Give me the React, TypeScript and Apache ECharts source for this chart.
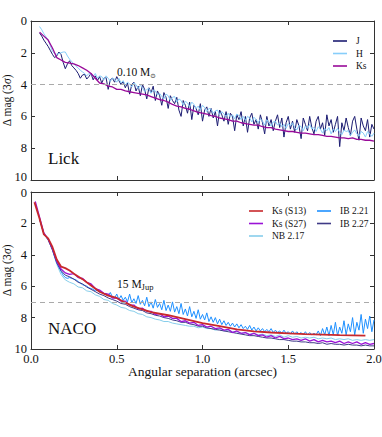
import React, { useEffect, useRef } from 'react';
import * as echarts from 'echarts';

// Angular separation grids (arcsec)
const SEP = [
  0.025, 0.05, 0.075, 0.1, 0.125, 0.15, 0.175, 0.2, 0.225, 0.25,
  0.275, 0.3, 0.325, 0.35, 0.375, 0.4, 0.425, 0.45, 0.475, 0.5,
  0.525, 0.55, 0.575, 0.6, 0.625, 0.65, 0.675, 0.7, 0.725, 0.75,
  0.775, 0.8, 0.825, 0.85, 0.875, 0.9, 0.925, 0.95, 0.975, 1.0,
  1.025, 1.05, 1.075, 1.1, 1.125, 1.15, 1.175, 1.2, 1.225, 1.25,
  1.275, 1.3, 1.325, 1.35, 1.375, 1.4, 1.425, 1.45, 1.475, 1.5,
  1.525, 1.55, 1.575, 1.6, 1.625, 1.65, 1.675, 1.7, 1.725, 1.75,
  1.775, 1.8, 1.825, 1.85, 1.875, 1.9, 1.925, 1.95, 1.975, 2.0,
];
const SEP_FINE = [
  0.05, 0.0625, 0.075, 0.0875, 0.1, 0.1125, 0.125, 0.1375,
  0.15, 0.1625, 0.175, 0.1875, 0.2, 0.2125, 0.225, 0.2375,
  0.25, 0.2625, 0.275, 0.2875, 0.3, 0.3125, 0.325, 0.3375,
  0.35, 0.3625, 0.375, 0.3875, 0.4, 0.4125, 0.425, 0.4375,
  0.45, 0.4625, 0.475, 0.4875, 0.5, 0.5125, 0.525, 0.5375,
  0.55, 0.5625, 0.575, 0.5875, 0.6, 0.6125, 0.625, 0.6375,
  0.65, 0.6625, 0.675, 0.6875, 0.7, 0.7125, 0.725, 0.7375,
  0.75, 0.7625, 0.775, 0.7875, 0.8, 0.8125, 0.825, 0.8375,
  0.85, 0.8625, 0.875, 0.8875, 0.9, 0.9125, 0.925, 0.9375,
  0.95, 0.9625, 0.975, 0.9875, 1.0, 1.0125, 1.025, 1.0375,
  1.05, 1.0625, 1.075, 1.0875, 1.1, 1.1125, 1.125, 1.1375,
  1.15, 1.1625, 1.175, 1.1875, 1.2, 1.2125, 1.225, 1.2375,
  1.25, 1.2625, 1.275, 1.2875, 1.3, 1.3125, 1.325, 1.3375,
  1.35, 1.3625, 1.375, 1.3875, 1.4, 1.4125, 1.425, 1.4375,
  1.45, 1.4625, 1.475, 1.4875, 1.5, 1.5125, 1.525, 1.5375,
  1.55, 1.5625, 1.575, 1.5875, 1.6, 1.6125, 1.625, 1.6375,
  1.65, 1.6625, 1.675, 1.6875, 1.7, 1.7125, 1.725, 1.7375,
  1.75, 1.7625, 1.775, 1.7875, 1.8, 1.8125, 1.825, 1.8375,
  1.85, 1.8625, 1.875, 1.8875, 1.9, 1.9125, 1.925, 1.9375,
  1.95, 1.9625, 1.975, 1.9875, 2.0,
];

// Lick (fine grid, from 0.05 arcsec)
const LICK_J = [
  0.75, 0.95, 1.2, 1.4, 1.6, 1.85, 2.1, 2.3,
  2.2, 1.95, 2.1, 2.6, 3.0, 2.7, 2.5, 2.8,
  2.95, 3.1, 3.3, 3.6, 3.4, 3.35, 3.65, 3.5,
  3.3, 3.7, 3.45, 3.75, 3.5, 3.9, 3.6, 3.55,
  4.3, 3.7, 3.6, 3.85, 3.5, 3.75, 4.0, 3.8,
  4.2, 3.9, 4.6, 4.0, 3.85, 4.4, 4.1, 4.7,
  4.0, 4.3, 4.9, 4.2, 4.5, 4.1, 5.0, 4.4,
  4.7, 5.3, 4.5, 4.8, 5.5, 4.7, 5.0, 5.2,
  4.8, 5.6, 6.0, 5.0, 5.3, 5.8, 5.1, 6.2,
  5.3, 5.5, 5.9, 5.2, 6.3, 5.6, 5.4, 6.0,
  5.5, 6.1, 5.7, 6.6, 5.6, 5.9, 6.3, 5.7,
  6.5, 5.8, 6.0, 6.9, 5.9, 6.2, 5.7, 6.6,
  6.0, 7.0, 6.1, 5.8, 6.5, 6.2, 6.8, 5.9,
  6.4, 7.1, 6.0, 6.6, 6.2, 6.9, 6.3, 5.9,
  6.7, 6.1, 7.3, 6.4, 6.0, 6.8, 6.3, 7.0,
  6.2, 6.6, 7.4, 6.1, 6.5, 6.9, 6.0, 6.7,
  7.1, 6.3, 6.0, 6.8, 6.4, 7.2, 5.9, 6.6,
  6.2, 7.0, 6.5, 6.0, 7.9, 6.4, 6.9, 6.1,
  6.7, 7.2, 6.3, 6.0, 6.8, 7.5, 6.1, 6.6,
  6.9, 6.2, 7.3, 6.5, 6.8,
];
const LICK_H = [
  0.35, 0.55, 0.8, 1.0, 1.2, 1.55, 1.9, 2.05,
  2.1, 2.05, 2.0, 1.95, 1.95, 2.2, 2.4, 2.55,
  2.7, 2.85, 2.95, 3.1, 3.2, 3.3, 3.45, 3.3,
  3.35, 3.5, 3.3, 3.6, 3.45, 3.5, 3.7, 3.45,
  3.6, 3.8, 3.6, 3.65, 3.85, 3.6, 3.9, 3.75,
  4.05, 3.85, 3.95, 4.15, 3.9, 4.0, 4.25, 4.05,
  4.2, 4.45, 4.3, 4.25, 4.55, 4.35, 4.4, 4.65,
  4.55, 4.75, 4.9, 4.6, 4.7, 5.0, 4.8, 4.75,
  5.1, 4.9, 5.0, 5.3, 5.05, 5.15, 5.4, 5.1,
  5.25, 5.5, 5.35, 5.6, 5.3, 5.45, 5.7, 5.5,
  5.55, 5.8, 5.65, 5.6, 5.9, 5.7, 5.85, 6.0,
  5.8, 6.05, 5.9, 6.15, 5.85, 5.95, 6.2, 6.0,
  6.25, 6.0, 6.1, 6.35, 6.05, 6.2, 6.4, 6.15,
  6.3, 6.55, 6.2, 6.4, 6.6, 6.35, 6.3, 6.55,
  6.4, 6.65, 6.5, 6.75, 6.45, 6.6, 6.4, 6.7,
  6.85, 6.55, 6.65, 6.9, 6.6, 6.75, 6.5, 6.8,
  6.7, 6.95, 6.65, 6.8, 7.05, 6.75, 6.9, 6.7,
  7.1, 6.8, 6.95, 6.75, 7.0, 7.15, 6.85, 6.95,
  6.9, 7.2, 7.0, 6.85, 7.1, 7.25, 6.95, 7.05,
  7.3, 6.95, 7.1, 7.25, 7.05,
];
// coarse grid, from 0.05
const LICK_KS = [
  0.7, 0.95, 1.2, 1.7, 2.3, 2.45, 2.6, 2.65, 2.7, 2.8,
  2.95, 3.1, 3.3, 3.6, 3.9, 3.95, 4.1, 4.15, 4.3, 4.3,
  4.4, 4.45, 4.5, 4.55, 4.6, 4.65, 4.75, 4.85, 4.95, 5.0,
  5.1, 5.25, 5.35, 5.4, 5.5, 5.55, 5.65, 5.75, 5.8, 5.85,
  5.95, 6.0, 6.1, 6.15, 6.2, 6.3, 6.3, 6.4, 6.45, 6.5,
  6.55, 6.55, 6.65, 6.7, 6.7, 6.8, 6.85, 6.9, 6.95, 6.95,
  7.0, 7.05, 7.05, 7.1, 7.15, 7.15, 7.2, 7.25, 7.25, 7.3,
  7.35, 7.35, 7.4, 7.35, 7.45, 7.45, 7.5, 7.5, 7.55,
];

// NACO
const RED_SEP = [0.02, 0.05, 0.075, 0.1, 0.125, 0.15, 0.175, 0.2, 0.225, 0.25, 0.3, 0.35, 0.4, 0.45, 0.5, 0.55, 0.6, 0.7, 0.8, 0.9, 1.0, 1.1, 1.2, 1.3, 1.4, 1.5, 1.6, 1.7, 1.8, 1.95];
const NACO_KS_S13 = [0.65, 1.7, 2.7, 2.95, 3.5, 4.3, 4.75, 4.85, 5.0, 5.2, 5.55, 5.95, 6.35, 6.6, 6.75, 7.05, 7.3, 7.65, 7.85, 8.1, 8.35, 8.55, 8.75, 8.88, 8.95, 9.0, 9.05, 9.08, 9.12, 9.15];
// coarse grid, from 0.025
const NACO_KS_S27 = [
  0.6, 1.6, 2.6, 3.0, 3.6, 4.4, 4.9, 5.15, 5.25, 5.2,
  5.45, 5.5, 5.75, 5.85, 6.15, 6.25, 6.45, 6.5, 6.75, 6.75,
  6.95, 6.95, 7.2, 7.2, 7.45, 7.4, 7.6, 7.6, 7.8, 7.75,
  7.95, 7.9, 8.05, 8.05, 8.25, 8.2, 8.35, 8.3, 8.5, 8.45,
  8.6, 8.55, 8.7, 8.65, 8.8, 8.75, 8.95, 8.85, 9.0, 8.95,
  9.1, 9.0, 9.15, 9.1, 9.25, 9.15, 9.3, 9.2, 9.35, 9.3,
  9.4, 9.35, 9.45, 9.35, 9.5, 9.4, 9.55, 9.45, 9.55, 9.5,
  9.6, 9.5, 9.65, 9.55, 9.65, 9.55, 9.7, 9.6, 9.7, 9.65,
];
// coarse grid, from 0.05
const NACO_NB217 = [
  1.7, 2.7, 3.05, 3.7, 4.6, 5.25, 5.6, 5.75, 5.85,
  6.05, 6.1, 6.3, 6.35, 6.55, 6.65, 6.85, 6.9, 7.1, 7.2,
  7.35, 7.4, 7.55, 7.6, 7.75, 7.8, 7.95, 8.0, 8.1, 8.15,
  8.25, 8.25, 8.35, 8.4, 8.45, 8.5, 8.55, 8.55, 8.65, 8.6,
  8.7, 8.7, 8.8, 8.75, 8.85, 8.8, 8.9, 8.9, 9.0, 8.95,
  9.05, 9.0, 9.1, 9.05, 9.15, 9.1, 9.2, 9.1, 9.25, 9.15,
  9.25, 9.2, 9.3, 9.25, 9.3, 9.25, 9.35, 9.3, 9.35, 9.3,
  9.4, 9.35, 9.4, 9.35, 9.45, 9.4, 9.45, 9.4, 9.45, 9.4,
];
// fine grid, from 0.05
const NACO_IB221 = [
  1.7, 2.2, 2.65, 2.85, 3.0, 3.3, 3.65, 4.1,
  4.5, 4.8, 5.05, 5.3, 5.45, 5.5, 5.45, 5.5,
  5.55, 5.6, 5.7, 5.8, 5.9, 5.95, 6.0, 6.1,
  6.15, 6.2, 6.3, 6.25, 6.4, 6.35, 6.5, 6.45,
  6.6, 6.4, 6.7, 6.75, 6.5, 6.85, 6.6, 6.9,
  6.7, 7.0, 6.5, 7.05, 6.8, 7.1, 6.6, 7.15,
  6.9, 7.25, 6.7, 7.3, 7.0, 7.4, 6.85, 7.35,
  7.1, 7.5, 6.9, 7.55, 7.2, 7.6, 7.0, 7.65,
  7.3, 7.75, 7.1, 7.8, 7.45, 7.9, 7.3, 7.95,
  7.6, 8.05, 7.5, 8.1, 7.8, 8.15, 7.7, 8.25,
  7.95, 8.3, 8.0, 8.4, 8.1, 8.45, 8.2, 8.5,
  8.3, 8.55, 8.35, 8.6, 8.4, 8.65, 8.45, 8.7,
  8.55, 8.75, 8.5, 8.8, 8.6, 8.85, 8.65, 8.85,
  8.7, 8.9, 8.75, 8.9, 8.7, 8.95, 8.8, 8.95,
  8.85, 9.0, 8.8, 9.0, 8.9, 9.05, 8.85, 9.05,
  8.9, 9.05, 8.95, 9.1, 8.9, 9.1, 8.95, 9.1,
  9.0, 9.1, 8.85, 9.15, 8.7, 9.1, 8.6, 9.15,
  8.5, 9.1, 8.3, 9.15, 8.6, 9.0, 8.2, 9.1,
  8.4, 8.9, 8.0, 9.1, 8.3, 8.8, 7.8, 9.0,
  8.1, 8.7, 7.9, 8.9, 8.15,
];
// coarse grid, from 0.05
const NACO_IB227 = [
  1.75, 2.65, 3.05, 3.7, 4.5, 5.0, 5.3, 5.4, 5.55,
  5.75, 5.85, 6.05, 6.2, 6.35, 6.5, 6.6, 6.75, 6.85, 6.95,
  7.1, 7.15, 7.3, 7.4, 7.5, 7.55, 7.7, 7.75, 7.85, 7.9,
  8.0, 8.05, 8.15, 8.2, 8.3, 8.3, 8.4, 8.45, 8.55, 8.55,
  8.65, 8.7, 8.75, 8.8, 8.85, 8.9, 8.95, 9.0, 9.05, 9.1,
  9.15, 9.15, 9.2, 9.25, 9.3, 9.3, 9.35, 9.4, 9.4, 9.45,
  9.5, 9.5, 9.55, 9.55, 9.6, 9.6, 9.65, 9.6, 9.7, 9.65,
  9.7, 9.7, 9.75, 9.7, 9.75, 9.75, 9.8, 9.75, 9.8, 9.8,
];

const Y_TICKS = [0, 2, 4, 6, 8, 10];
const X_TICKS = [0.0, 0.5, 1.0, 1.5, 2.0];

const FONT = 'Liberation Serif, Times New Roman, serif';

function zip(xs: number[], ys: number[]) {
  return ys.map((y, i) => [xs[i], y]);
}

export default function App() {
  const ref = useRef<HTMLDivElement>(null);
  useEffect(() => {
    document.body.style.margin = '0';
    const chart = echarts.init(ref.current!, undefined, { renderer: 'svg' });
    const frame = { lineStyle: { color: '#333', width: 1 } };
    const tick = { show: true, inside: true, length: 4, lineStyle: { color: '#333' } };
    const labelRich = {
      up: { fontFamily: FONT, fontSize: 12.5, color: '#111', padding: [0, 0, 6, 0] },
      dn: { fontFamily: FONT, fontSize: 12.5, color: '#111', padding: [2, 0, 0, 0] },
    };
    const xBase = (grid: number, pos: string, labels: boolean, extra: any = {}) => ({
      type: 'value', gridIndex: grid, position: pos, min: X_TICKS[0], max: X_TICKS[X_TICKS.length - 1], interval: 0.5,
      axisLine: { show: true, onZero: false, ...frame }, axisTick: tick, splitLine: { show: false },
      axisLabel: { show: labels, fontFamily: FONT, fontSize: 12.5, lineHeight: 11, color: '#111', margin: 4, formatter: (v: number) => v.toFixed(1) },
      ...extra,
    });
    const yBase = (grid: number, pos: string, labels: boolean, extra: any = {}) => ({
      type: 'value', gridIndex: grid, position: pos, inverse: true, min: Y_TICKS[0], max: Y_TICKS[Y_TICKS.length - 1], interval: 2,
      axisLine: { show: true, onZero: false, ...frame }, axisTick: tick, splitLine: { show: false },
      axisLabel: {
        show: labels, fontFamily: FONT, fontSize: 12.5, color: '#111', margin: 4, rich: labelRich,
        formatter: (v: number) => (grid === 0 && v === 10 ? '{up|10}' : grid === 1 && v === 0 ? '{dn|0}' : String(v)),
      },
      ...extra,
    });
    const yName = {
      name: 'Δ mag (3{i|σ})', nameLocation: 'middle', nameGap: 18, nameMoveOverlap: false,
      nameTextStyle: { fontFamily: FONT, fontSize: 11.5, color: '#111', rich: { i: { fontFamily: FONT, fontSize: 11.5, fontStyle: 'italic', color: '#111' } } },
    };
    const line = (name: string, data: any[], color: string, grid: number, width = 1, extra: any = {}) => ({
      type: 'line', name, data, xAxisIndex: grid * 2, yAxisIndex: grid * 2, symbol: 'none', showSymbol: false,
      lineStyle: { color, width }, itemStyle: { color }, z: 2, ...extra,
    });
    const dash = (val: number) => ({
      markLine: {
        silent: true, symbol: 'none', label: { show: false },
        lineStyle: { color: '#aaa', type: [5, 4], width: 1.2 },
        data: [{ yAxis: val }],
      },
    });
    const legendBase = {
      orient: 'vertical', icon: 'rect', itemWidth: 14, itemHeight: 1.6, itemGap: 0.5, padding: 0,
      textStyle: { fontFamily: FONT, fontSize: 9.5, color: '#111', lineHeight: 12, padding: [0, 0, 0, 4] },
    };
    chart.setOption({
      animation: false,
      backgroundColor: '#fff',
      grid: [
        { left: 31, top: 21, width: 343, height: 159, outerBoundsMode: 'none', containLabel: false },
        { left: 31, top: 192, width: 343, height: 157, outerBoundsMode: 'none', containLabel: false },
      ],
      xAxis: [
        xBase(0, 'bottom', false),
        xBase(0, 'top', false),
        xBase(1, 'bottom', true, {
          name: 'Angular separation (arcsec)', nameLocation: 'middle', nameGap: 16, nameMoveOverlap: false,
          nameTextStyle: { fontFamily: FONT, fontSize: 13.5, lineHeight: 13, color: '#111', verticalAlign: 'top' },
        }),
        xBase(1, 'top', false),
      ],
      yAxis: [
        yBase(0, 'left', true, yName),
        yBase(0, 'right', false),
        yBase(1, 'left', true, yName),
        yBase(1, 'right', false),
      ],
      legend: [
        { ...legendBase, left: 333, top: 35, data: ['J', 'H', 'Ks'] },
        { ...legendBase, left: 249, top: 205, data: ['Ks (S13)', 'Ks (S27)', 'NB 2.17'] },
        { ...legendBase, left: 317, top: 205, data: ['IB 2.21', 'IB 2.27'] },
      ],
      series: [
        line('J', zip(SEP_FINE, LICK_J), '#1c1c72', 0, 1, dash(4)),
        line('H', zip(SEP_FINE, LICK_H), '#87cefa', 0, 1),
        line('Ks', zip(SEP.slice(1), LICK_KS), '#990a99', 0, 1.3),
        line('NB 2.17', zip(SEP.slice(1), NACO_NB217), '#87ceeb', 1, 1, dash(7)),
        line('IB 2.21', zip(SEP_FINE, NACO_IB221), '#1e90ff', 1, 1),
        line('IB 2.27', zip(SEP.slice(1), NACO_IB227), '#3f3a86', 1, 1),
        line('Ks (S27)', zip(SEP, NACO_KS_S27), '#9a12d6', 1, 1.3),
        line('Ks (S13)', zip(RED_SEP, NACO_KS_S13), '#c8282c', 1, 1.8),
      ],
      graphic: [
        { type: 'text', x: 48, y: 158, style: { text: 'Lick', fontFamily: FONT, fontSize: 17, fill: '#111', verticalAlign: 'middle' } },
        { type: 'text', x: 48, y: 328, style: { text: 'NACO', fontFamily: FONT, fontSize: 17, fill: '#111', verticalAlign: 'middle' } },
        {
          type: 'text', x: 117, y: 72,
          style: {
            text: '0.10 M{s|⊙}', fontFamily: FONT, fontSize: 11.5, lineHeight: 15, fill: '#111', verticalAlign: 'middle',
            rich: { s: { fontFamily: 'DejaVu Sans', fontSize: 6.5, lineHeight: 15, verticalAlign: 'bottom', fill: '#111' } },
          },
        },
        {
          type: 'text', x: 117, y: 284,
          style: {
            text: '15 M{s|Jup}', fontFamily: FONT, fontSize: 11.5, lineHeight: 15, fill: '#111', verticalAlign: 'middle',
            rich: { s: { fontFamily: FONT, fontSize: 8.5, lineHeight: 15, verticalAlign: 'bottom', fill: '#111' } },
          },
        },
      ],
    });
    return () => chart.dispose();
  }, []);
  return <div ref={ref} style={{ width: 382, height: 437 }} />;
}
